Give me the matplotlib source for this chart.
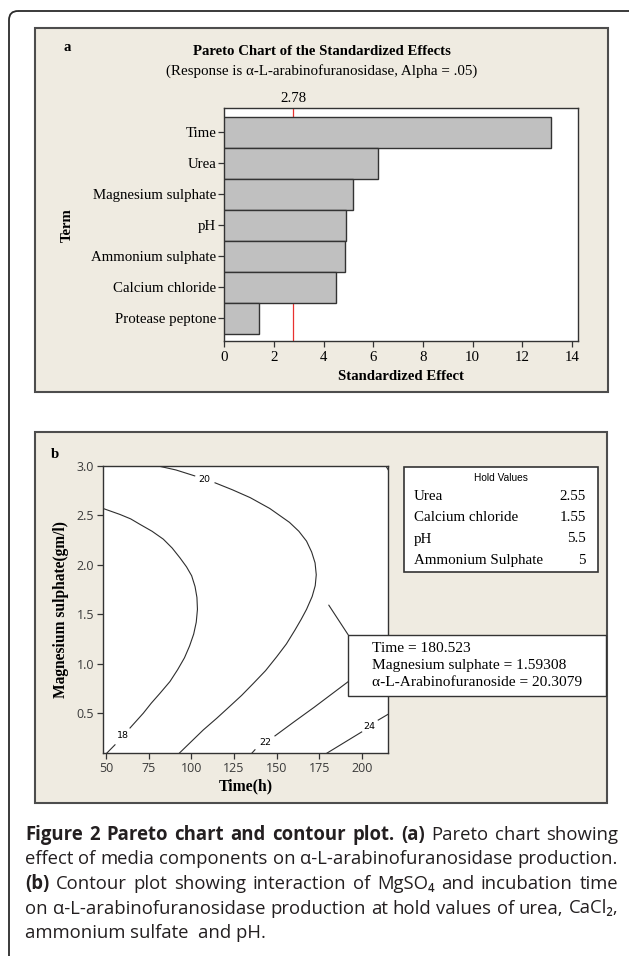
import numpy as np
import matplotlib
matplotlib.use("Agg")
import matplotlib.pyplot as plt
from matplotlib.patches import Rectangle, FancyBboxPatch, ConnectionPatch

W, H = 629, 956

# ---- panel a : pareto chart
terms = ["Time", "Urea", "Magnesium sulphate", "pH", "Ammonium sulphate",
         "Calcium chloride", "Protease peptone"]
effects = [13.18, 6.21, 5.18, 4.90, 4.87, 4.48, 1.41]
t_crit = 2.78
xticks_a = [0, 2, 4, 6, 8, 10, 12, 14]

# ---- panel b : contour lines (time, mg) pieces between labels
c18_t = [48.1, 48.4, 58.2, 64.5, 69.9, 77.0, 83.6, 88.8, 93.4, 97.2, 100.2, 102.2, 103.3, 103.6, 102.9, 101.4, 99.0, 96.0, 92.0, 87.5, 81.6, 76.5, 71.9, 64.1]
c18_m = [2.575, 2.57, 2.51, 2.465, 2.41, 2.34, 2.26, 2.17, 2.07, 1.98, 1.89, 1.78, 1.67, 1.55, 1.42, 1.30, 1.18, 1.06, 0.94, 0.82, 0.70, 0.60, 0.50, 0.35]
c18_end_t = [50.4, 55.3]
c18_end_m = [0.094, 0.18]
c20_top_t = [80.6, 91.0, 102.0]
c20_top_m = [3.0, 2.96, 2.90]
c20_t = [113.9, 124.0, 134.5, 146.0, 157.5, 163.0, 167.5, 170.5, 172.5, 173.2, 172.6, 170.8, 167.5, 164.4, 160.7, 155.7, 150.0, 143.5, 136.3, 129.5, 122.6, 115.0, 107.0, 92.9]
c20_m = [2.83, 2.76, 2.68, 2.57, 2.43, 2.34, 2.24, 2.13, 2.02, 1.90, 1.79, 1.68, 1.55, 1.45, 1.34, 1.20, 1.07, 0.93, 0.80, 0.68, 0.57, 0.45, 0.33, 0.094]
c22_start_t = [135.4, 137.3]
c22_start_m = [0.094, 0.13]
c22_t = [149.0, 160.0, 172.0, 182.0, 192.0, 215.4]
c22_m = [0.27, 0.41, 0.56, 0.69, 0.82, 1.12]
c22_corner_t = [214.0, 215.4]
c22_corner_m = [3.0, 2.96]
c24_start_t = [179.3, 199.8]
c24_start_m = [0.094, 0.31]
c24_t = [209.5, 215.4]
c24_m = [0.43, 0.49]
clabels = ["18", "20", "22", "24"]
clabel_t = [60.2, 107.8, 143.5, 204.0]
clabel_m = [0.27, 2.86, 0.205, 0.37]

hold_names = ["Urea", "Calcium chloride", "pH", "Ammonium Sulphate"]
hold_vals = ["2.55", "1.55", "5.5", "5"]
sel_time = 180.523
sel_mg = 1.59308
sel_resp = 20.3079

serif = "Liberation Serif"
sans = "Open Sans"
beige = "#efebe1"
dark = "#333333"


def px_rect(x0, y0, x1, y1):
    return [x0 / W, 1 - y1 / H, (x1 - x0) / W, (y1 - y0) / H]


fig = plt.figure(figsize=(W / 100, H / 100), dpi=100)

bg = fig.add_axes([0, 0, 1, 1])
bg.set_xlim(0, W)
bg.set_ylim(H, 0)
bg.axis("off")

# outer rounded frame
bg.add_patch(FancyBboxPatch((9, 11), 632, 955, boxstyle="round,pad=0,rounding_size=9",
                            fill=False, ec="#2b2b2b", lw=1.3))
# panel backgrounds
bg.add_patch(Rectangle((35, 28), 573, 364, fc=beige, ec="#4d4d4d", lw=1.5))
bg.add_patch(Rectangle((35, 432), 572, 371, fc=beige, ec="#4d4d4d", lw=1.5))

# ---------------- panel a
ax_a = fig.add_axes(px_rect(224.4, 107.7, 578, 341))
ypos = np.arange(len(terms))
ax_a.barh(ypos, effects, height=1.0, color="#c0c0c0", edgecolor=dark, linewidth=1.0, zorder=3)
ax_a.axvline(t_crit, color="#e8312f", lw=0.9, zorder=2)
ax_a.set_xlim(0, 14.25)
ax_a.set_ylim(6.74, -0.79)
ax_a.set_yticks(ypos)
ax_a.set_yticklabels(terms, fontsize=10.7, family=serif)
ax_a.set_xticks(xticks_a)
ax_a.set_xticklabels([str(v) for v in xticks_a], fontsize=10.7, family=serif)
ax_a.tick_params(length=4, width=0.9, color=dark, pad=2)
ax_a.tick_params(axis="x", pad=3)
for s in ax_a.spines.values():
    s.set_color(dark)
    s.set_linewidth(1.0)
ax_a.annotate("%.2f" % t_crit, xy=(t_crit, 1), xycoords=("data", "axes fraction"),
              xytext=(0, 2), textcoords="offset points", ha="center", va="bottom",
              fontsize=10.7, family=serif)

bg.text(67, 47, "a", fontsize=10.7, fontweight="bold", family=serif, ha="center", va="center")
bg.text(322, 51, "Pareto Chart of the Standardized Effects", fontsize=10.6, fontweight="bold",
        family=serif, ha="center", va="center")
bg.text(322, 71, "(Response is α-L-arabinofuranosidase, Alpha = .05)", fontsize=10.8,
        family=serif, ha="center", va="center")
bg.text(401, 377, "Standardized Effect", fontsize=10.6, fontweight="bold", family=serif,
        ha="center", va="center")
bg.text(67, 225, "Term", fontsize=10.6, fontweight="bold", family=serif, rotation=90,
        ha="center", va="center")

# ---------------- panel b
ax_b = fig.add_axes(px_rect(102.7, 466, 388.3, 753.3))
lw_c = 0.8
for tt, mm in [(c18_t, c18_m), (c18_end_t, c18_end_m), (c20_top_t, c20_top_m), (c20_t, c20_m),
               (c22_start_t, c22_start_m), (c22_t, c22_m), (c22_corner_t, c22_corner_m),
               (c24_start_t, c24_start_m), (c24_t, c24_m)]:
    ax_b.plot(tt, mm, color="#2e2e2e", lw=lw_c)
for lab, tt, mm in zip(clabels, clabel_t, clabel_m):
    ax_b.text(tt, mm, lab, fontsize=6.8, family="DejaVu Sans", ha="center", va="center")
ax_b.set_xlim(48.1, 215.4)
ax_b.set_ylim(0.094, 3.0)
ax_b.set_xticks([50, 75, 100, 125, 150, 175, 200])
ax_b.set_yticks([0.5, 1.0, 1.5, 2.0, 2.5, 3.0])
ax_b.set_yticklabels(["0.5", "1.0", "1.5", "2.0", "2.5", "3.0"])
for lab in ax_b.get_xticklabels() + ax_b.get_yticklabels():
    lab.set_family(sans)
    lab.set_fontsize(9)
    lab.set_color("#3a3a3a")
ax_b.tick_params(length=4, width=0.9, color=dark, pad=2)
for s in ax_b.spines.values():
    s.set_color(dark)
    s.set_linewidth(1.0)

bg.text(55, 454, "b", fontsize=10.7, fontweight="bold", family=serif, ha="center", va="center")
bg.text(246, 786, "Time(h)", fontsize=11.3, fontweight="bold", family=serif, ha="center", va="center")
bg.text(61, 610, "Magnesium sulphate(gm/l)", fontsize=11.2, fontweight="bold", family=serif,
        rotation=90, ha="center", va="center")

# overlay for boxes above the contour axes
ov = fig.add_axes([0, 0, 1, 1])
ov.set_xlim(0, W)
ov.set_ylim(H, 0)
ov.axis("off")
ov.patch.set_visible(False)

ov.add_patch(Rectangle((404, 467), 194, 105, fc="white", ec=dark, lw=1.2))
ov.text(501, 478, "Hold Values", fontsize=7.3, family="Liberation Sans", ha="center", va="center")
for i, (n, v) in enumerate(zip(hold_names, hold_vals)):
    y = 496 + i * 21.5
    ov.text(414, y, n, fontsize=10.8, family=serif, ha="left", va="center")
    ov.text(586, y, v, fontsize=10.8, family=serif, ha="right", va="center")

ov.add_patch(Rectangle((348.3, 635), 258, 61, fc="white", ec=dark, lw=1.0))
ov.add_artist(ConnectionPatch(xyA=(sel_time, sel_mg), coordsA=ax_b.transData,
                              xyB=(348.3, 635), coordsB=ov.transData, color="#2e2e2e", lw=0.8))
ann = ["Time = %.3f" % sel_time, "Magnesium sulphate = %.5f" % sel_mg,
       "α-L-Arabinofuranoside = %.4f" % sel_resp]
for i, s in enumerate(ann):
    ov.text(372.5, 648 + i * 17, s, fontsize=11.1, family=serif, ha="left", va="center")

# ---------------- caption (justified)
renderer = fig.canvas.get_renderer()
cap_fam = [sans, "DejaVu Sans"]
cap_lines = [
    [("Figure 2 Pareto chart and contour plot. (a)", True), ("Pareto chart showing", False)],
    [("effect of media components on α-L-arabinofuranosidase production.", False)],
    [("(b)", True), ("Contour plot showing interaction of MgSO₄ and incubation time", False)],
    [("on α-L-arabinofuranosidase production at hold values of urea, CaCl₂,", False)],
]
last_line = "ammonium sulfate  and pH."
cap_x0, cap_x1 = 25, 618
cap_base = [840, 864.5, 889, 913.5, 938]

probe = bg.text(0, 0, last_line, fontsize=10, family=cap_fam)
cap_size = 10 * 242 / probe.get_window_extent(renderer).width
probe.remove()

for base, segs in zip(cap_base, cap_lines):
    words = []
    for txt, bold in segs:
        words += [(w, bold) for w in txt.split(" ")]
    objs = [bg.text(0, base, w, fontsize=cap_size, family=cap_fam,
                    fontweight="bold" if b else "normal", va="baseline", color="#231f20")
            for w, b in words]
    widths = [o.get_window_extent(renderer).width for o in objs]
    gap = (cap_x1 - cap_x0 - sum(widths)) / (len(objs) - 1)
    x = cap_x0
    for o, w in zip(objs, widths):
        o.set_x(x)
        x += w + gap
bg.text(cap_x0, cap_base[4], last_line, fontsize=cap_size, family=cap_fam, va="baseline",
        color="#231f20")

fig.savefig("out.png", dpi=100)
